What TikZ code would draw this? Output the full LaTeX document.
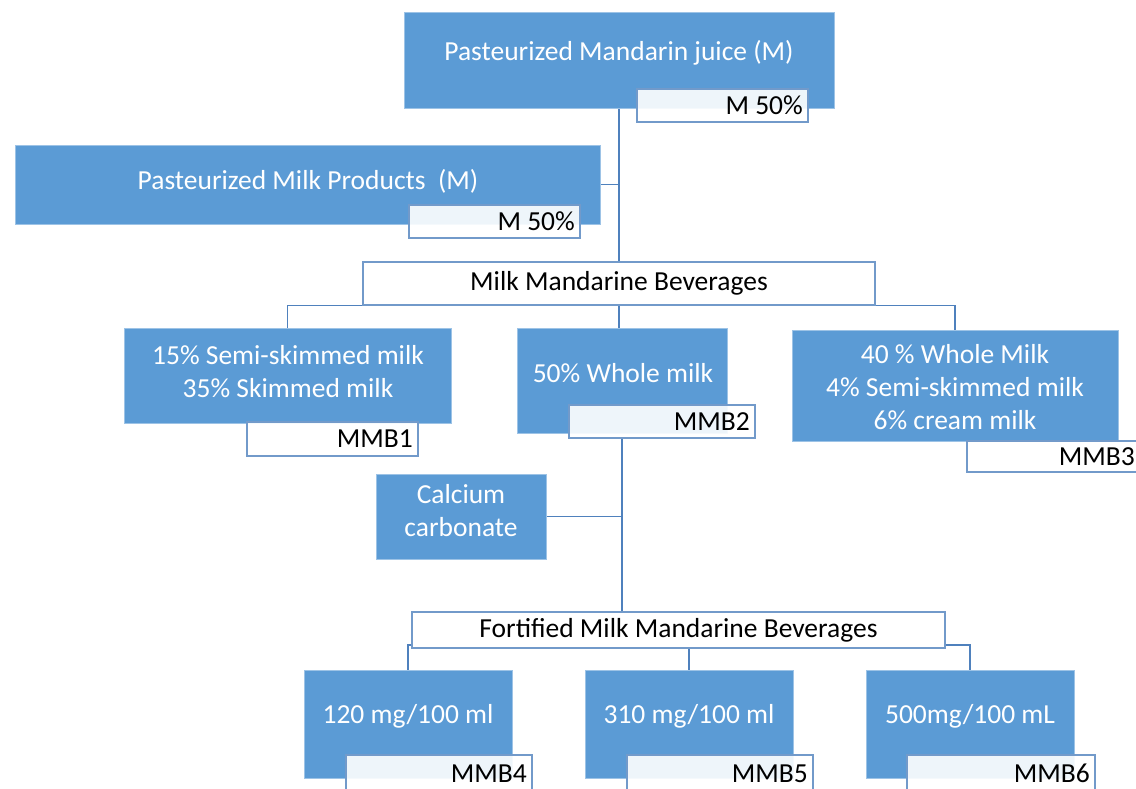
\documentclass[tikz,border=0pt]{standalone}
\usepackage{fontspec}
\setmainfont{Carlito}
\usetikzlibrary{backgrounds,calc}
\definecolor{myblue}{HTML}{5B9BD5}
\definecolor{lineblue}{HTML}{4F81BD}
\tikzset{
  bluebox/.style={rectangle, fill=myblue, draw=myblue!60!white, line width=0.8pt, inner sep=0pt},
  wtext/.style={text=white, font=\fontsize{27.5}{33}\selectfont, align=center, inner sep=0pt},
  whitebox/.style={rectangle, fill=white, draw=lineblue!80!white, line width=1.2pt, inner sep=0pt, font=\fontsize{27.5}{33}\selectfont},
  labbox/.style={rectangle, fill=white, fill opacity=0.9, draw=lineblue!80!white, line width=1.2pt, inner sep=0pt},
  labtext/.style={anchor=east, inner sep=0pt, font=\fontsize{27.5}{33}\selectfont, text=black},
  conn/.style={draw=lineblue, line width=1.6pt},
}
\newcommand{\bbox}[5]{% name, x1, y1, x2, y2
  \node[bluebox, minimum width={(#4-#2)*1pt}, minimum height={(#5-#3)*1pt}] (#1) at ({(#2+#4)/2},{(#3+#5)/2}) {};}
\newcommand{\lbox}[6]{% name, x1, y1, x2, y2, text
  \node[labbox, minimum width={(#4-#2)*1pt}, minimum height={(#5-#3)*1pt}] (#1) at ({(#2+#4)/2},{(#3+#5)/2}) {};
  \node[labtext] (#1t) at ({#4-5},{(#3+#5)/2}) {#6};}
\begin{document}
\begin{tikzpicture}[x=1pt,y=-1pt]
\useasboundingbox (0,0) rectangle (1136,789);
% top boxes
\bbox{top}{404}{12}{834}{108}
\node[wtext] (topt) at (619,53) {Pasteurized Mandarin juice (M)};
\lbox{lab0}{637}{89}{808}{122}{M 50\%}
\bbox{milk}{15}{145}{600}{224}
\node[wtext] (milkt) at (308,181) {Pasteurized Milk Products~~(M)};
\lbox{lab00}{409}{205}{580}{238}{M 50\%}
% middle
\node[whitebox, minimum width=512pt, minimum height=43pt] (mmb) at (619,283.5) {Milk Mandarine Beverages};
\bbox{c1}{124}{328}{451}{423}
\node[wtext] (c1t) at (288,372) {15\% Semi-skimmed milk\\35\% Skimmed milk};
\lbox{lab1}{247}{422}{418}{456}{MMB1}
\bbox{c2}{517}{328}{727}{433}
\node[wtext] (c2t) at (623,373) {50\% Whole milk};
\lbox{lab2}{569}{405}{755}{438}{MMB2}
\bbox{c3}{792}{330}{1118}{441}
\node[wtext] (c3t) at (955,387) {40 \% Whole Milk\\4\% Semi-skimmed milk\\6\% cream milk};
\lbox{lab3}{967}{441}{1140}{472}{MMB3}
\bbox{ca}{376}{474}{546}{559}
\node[wtext] (cat) at (461,511) {Calcium\\carbonate};
% fortified
\node[whitebox, minimum width=533pt, minimum height=36pt] (fort) at (678.5,630) {Fortified Milk Mandarine Beverages};
\bbox{d4}{304}{670}{512}{778}
\node[wtext] (d4t) at (408,716) {120 mg/100 ml};
\lbox{lab4}{346}{755}{532}{792}{MMB4}
\bbox{d5}{585}{670}{793}{778}
\node[wtext] (d5t) at (689,716) {310 mg/100 ml};
\lbox{lab5}{627}{755}{813}{792}{MMB5}
\bbox{d6}{866}{670}{1074}{778}
\node[wtext] (d6t) at (970,716) {500mg/100 mL};
\lbox{lab6}{907}{755}{1095}{792}{MMB6}
\coordinate (fbar) at (0,645);
\begin{scope}[on background layer]
  \draw[conn] (top.south) -- (mmb.north);
  \draw[conn] (milk.east) -- (milk.east -| top.south);
  \draw[conn] (c1.north) |- (mmb.south west);
  \draw[conn] (c3.north) |- (mmb.south east);
  \draw[conn] (mmb.south) -- (mmb.south |- c2.north);
  \draw[conn] (c2.south |- lab2.south) -- (c2.south |- fort.north);
  \draw[conn] (ca.east) -- (ca.east -| c2.south);
  \draw[conn] (d4.north) -- (d4.north |- fbar) -- (d6.north |- fbar) -- (d6.north);
  \draw[conn] (d5.north |- fbar) -- (d5.north);
\end{scope}
\end{tikzpicture}
\end{document}
